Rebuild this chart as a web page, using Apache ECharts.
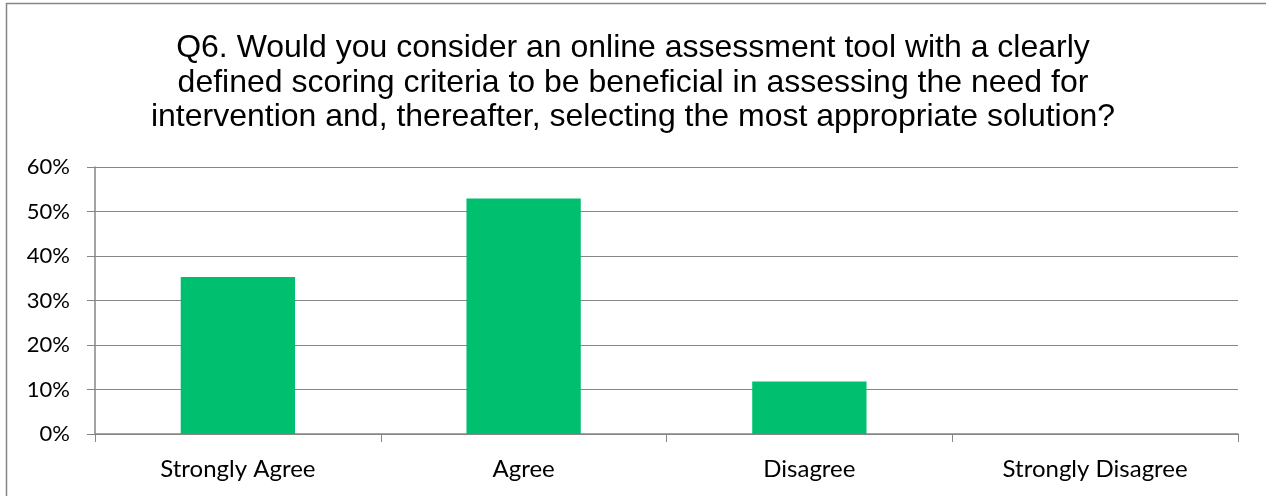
<!DOCTYPE html>
<html>
<head>
<meta charset="utf-8">
<script src="https://cdn.jsdelivr.net/npm/echarts@6/dist/echarts.min.js"></script>
<style>
  html, body { margin: 0; padding: 0; background: #fff; }
  #chart { width: 1266px; height: 496px; }
</style>
</head>
<body>
<div id="chart"></div>
<script>
// Survey responses, Q6 (share of respondents)
const categories = ['Strongly Agree', 'Agree', 'Disagree', 'Strongly Disagree'];
const shares = [0.353, 0.529, 0.118, 0];
const yTicks = [0, 0.1, 0.2, 0.3, 0.4, 0.5, 0.6];
const titleLines = [
  'Q6. Would you consider an online assessment tool with a clearly',
  'defined scoring criteria to be beneficial in assessing the need for',
  'intervention and, thereafter, selecting the most appropriate solution?'
];

const axisGray = '#868686';
const labelFont = 'Lato';

const chart = echarts.init(document.getElementById('chart'), null, { renderer: 'canvas' });

chart.setOption({
  animation: false,
  backgroundColor: '#ffffff',
  title: {
    text: titleLines.join('\n'),
    left: 'center',
    top: 26,
    textStyle: {
      fontFamily: 'Liberation Sans',
      fontSize: 32,
      fontWeight: 'normal',
      color: '#000',
      lineHeight: 34.5
    }
  },
  graphic: [{
    type: 'rect',
    silent: true,
    shape: { x: 6.5, y: 3.5, width: 2000, height: 1000 },
    style: { fill: 'none', stroke: axisGray, lineWidth: 1.5 }
  }],
  grid: { left: 95, right: 28, top: 167, bottom: 62, containLabel: false },
  xAxis: {
    type: 'category',
    data: categories,
    axisLine: { lineStyle: { color: axisGray, width: 1.5 } },
    axisTick: { show: true, alignWithLabel: false, length: 8, lineStyle: { color: axisGray, width: 1 } },
    axisLabel: { margin: 23, fontFamily: labelFont, fontSize: 24, color: '#000' }
  },
  yAxis: {
    type: 'value',
    min: yTicks[0],
    max: yTicks[yTicks.length - 1],
    interval: 0.1,
    axisLine: { show: true, lineStyle: { color: axisGray, width: 1.5 } },
    axisTick: { show: true, length: 8, lineStyle: { color: axisGray, width: 1 } },
    splitLine: { show: true, lineStyle: { color: axisGray, width: 1.2 } },
    axisLabel: {
      margin: 25,
      fontFamily: labelFont,
      fontSize: 22,
      color: '#000',
      formatter: v => Math.round(v * 100) + '%'
    }
  },
  series: [{
    type: 'bar',
    data: shares,
    barCategoryGap: '60%',
    itemStyle: { color: '#00BF6F' }
  }]
});
</script>
</body>
</html>
